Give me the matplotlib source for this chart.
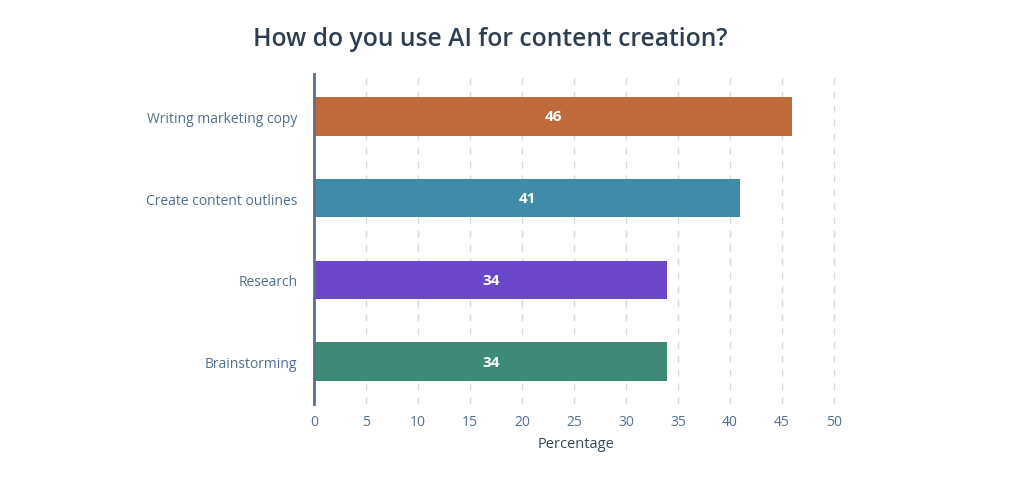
import matplotlib
matplotlib.use("Agg")
import matplotlib.pyplot as plt

categories = ["Writing marketing copy", "Create content outlines", "Research", "Brainstorming"]
values = [46, 41, 34, 34]
colors = ["#C0693B", "#408BAA", "#6C47C9", "#3D8A78"]
xticks = [0, 5, 10, 15, 20, 25, 30, 35, 40, 45, 50]

plt.rcParams['font.family'] = ['Open Sans', 'DejaVu Sans']

fig = plt.figure(figsize=(10.24, 5.02), dpi=100)
ax = fig.add_axes([314/1024, 1-405/502, (839-314)/1024, (405-75)/502])

ypos = list(range(len(categories)))
ax.barh(ypos, values, height=0.47, color=colors, zorder=3)
for y, v in zip(ypos, values):
    ax.text(v/2, y, str(v), ha='center', va='center', color='white',
            fontsize=11, fontweight='bold', zorder=4)

ax.set_ylim(3.52, -0.52)
ax.set_xlim(0, 50.5)
ax.set_yticks(ypos)
ax.set_yticklabels(categories)
ax.set_xticks(xticks)
ax.tick_params(axis='y', length=0, pad=12, labelsize=10, labelcolor='#516F90')
ax.tick_params(axis='x', length=0, pad=7, labelsize=10, labelcolor='#516F90')
for lbl in ax.get_yticklabels() + ax.get_xticklabels():
    lbl.set_fontweight('medium')

ax.grid(axis='x', linestyle=(0, (5, 5)), color='#D3DAE4', linewidth=1, zorder=0)
for s in ['top', 'right', 'bottom']:
    ax.spines[s].set_visible(False)
ax.spines['left'].set_color('#5A6E8C')
ax.spines['left'].set_linewidth(2)
ax.spines['left'].set_zorder(5)

ax.set_xlabel("Percentage", fontsize=10.5, color='#33475B', labelpad=5, fontweight='medium')
fig.text(490/1024, 1-40/502, "How do you use AI for content creation?", ha='center', va='center',
         fontsize=17.7, fontweight='semibold', color='#2D3E50')

fig.savefig("out.png", dpi=100, facecolor='white')
